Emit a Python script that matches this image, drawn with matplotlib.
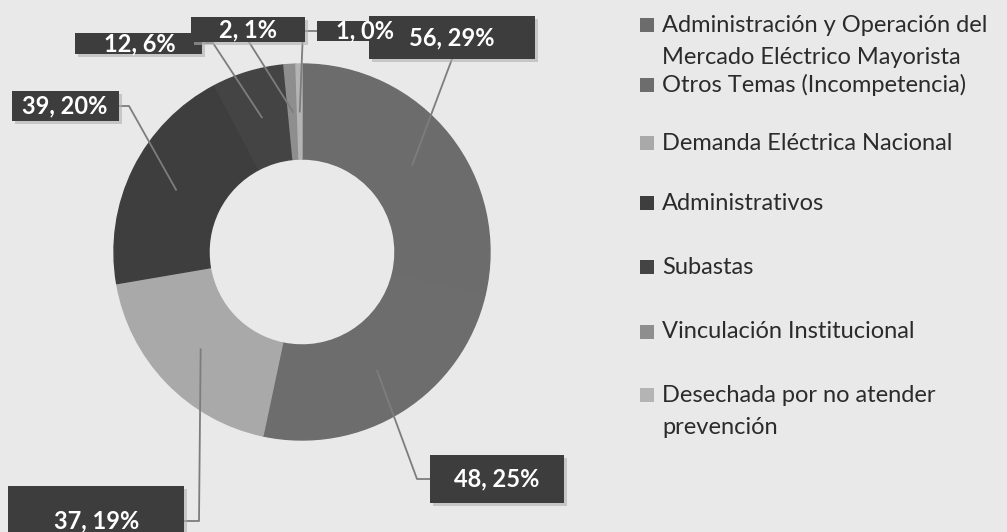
import matplotlib.pyplot as plt
from matplotlib.patches import Rectangle
import numpy as np

# data
categories = [
    "Administración y Operación del\nMercado Eléctrico Mayorista",
    "Otros Temas (Incompetencia)",
    "Demanda Eléctrica Nacional",
    "Administrativos",
    "Subastas",
    "Vinculación Institucional",
    "Desechada por no atender\nprevención",
]
counts = [56, 48, 37, 39, 12, 2, 1]
percents = ["29%", "25%", "19%", "20%", "6%", "1%", "0%"]
colors = ["#6c6c6c", "#6d6d6d", "#a9a9a9", "#3e3e3e", "#444444", "#8e8e8e", "#b4b4b4"]

W, H = 1007, 532
bg = "#e9e9e9"
font = "Lato"


def py(y):
    # pixel row (from top) -> data y
    return H - y


fig = plt.figure(figsize=(W / 100, H / 100), dpi=100, facecolor=bg)
ax = fig.add_axes([0, 0, 1, 1])
ax.set_facecolor(bg)

cx, cy, R, ring = 302, py(252), 188, 95
wedges, _ = ax.pie(counts, colors=colors, startangle=90, counterclock=False,
                   center=(cx, cy), radius=R,
                   wedgeprops=dict(width=ring, linewidth=1.0))
for w, c in zip(wedges, colors):
    w.set_edgecolor(c)
ax.set_xlim(0, W)
ax.set_ylim(0, H)
ax.set_aspect("equal")
ax.axis("off")

# label boxes (left, right, top, bottom in pixels), text centre, leader start points
boxes = [(369, 535, 16, 59), (430, 564, 455, 503), (8, 184, 486, 560),
         (12, 119, 91, 121), (75, 202, 33, 54), (191, 305, 17, 42), (317, 411, 21, 41)]
text_pos = [(452, 38), (497, 479), (97, 521), (65, 106), (140, 44), (248, 30), (365, 31)]
leads = [[(452, 59)], [(430, 479), (417, 479)], [(184, 521), (199, 521)],
         [(119, 106), (129, 106)], [(202, 43), (213, 43)], [(249, 42)],
         [(317, 31), (303, 31)]]
box_z = [12, 12, 12, 12, 12, 14, 20]
shadow = [True, True, True, True, True, True, False]

rmid = R - ring / 2
for i, w in enumerate(wedges):
    ang = np.deg2rad((w.theta1 + w.theta2) / 2)
    tx, ty = cx + rmid * np.cos(ang), cy + rmid * np.sin(ang)
    pts = [(x, py(y)) for x, y in leads[i]] + [(tx, ty)]
    ax.plot([p[0] for p in pts], [p[1] for p in pts], color="#7d7d7d", lw=1.3, zorder=5)

    l, r, t, b = boxes[i]
    if shadow[i]:
        ax.add_patch(Rectangle((l + 3, py(b) - 3), r - l, b - t, facecolor="#b0b0b0",
                               edgecolor="none", alpha=0.6, zorder=box_z[i] - 1))
    ax.add_patch(Rectangle((l, py(b)), r - l, b - t, facecolor="#3d3d3d",
                           edgecolor="none", zorder=box_z[i]))
    ax.text(text_pos[i][0], py(text_pos[i][1]), f"{counts[i]}, {percents[i]}",
            color="white", fontsize=17, fontweight="bold", family=font,
            ha="center", va="center", zorder=box_z[i] + 0.5)

# legend
leg_y = [25, 85, 143, 203, 267, 332, 395]
for i, name in enumerate(categories):
    y0 = leg_y[i]
    ax.add_patch(Rectangle((640, py(y0 + 7)), 14, 14, facecolor=colors[i], edgecolor="none"))
    for k, line in enumerate(name.split("\n")):
        ax.text(662, py(y0 + k * 32), line, fontsize=17, family=font,
                color="#2b2b2b", ha="left", va="center")

fig.savefig("out.png", dpi=100, facecolor=bg)
